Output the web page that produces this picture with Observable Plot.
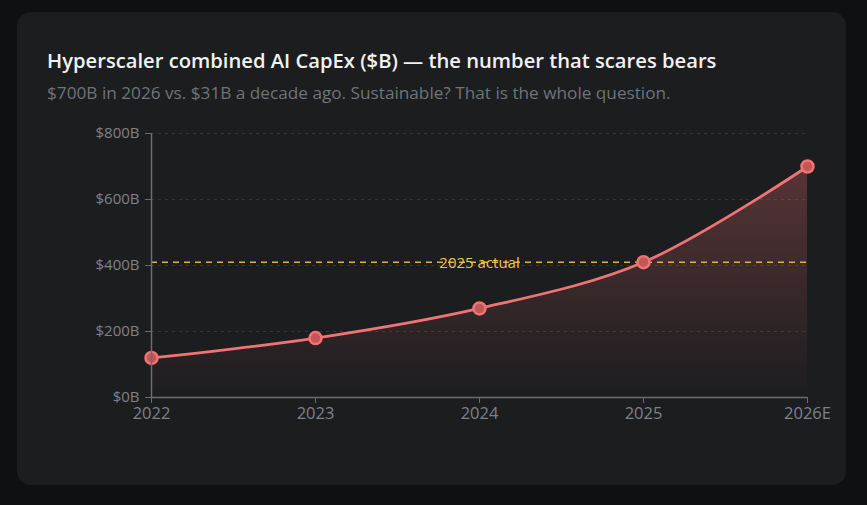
<!DOCTYPE html>
<html><head><meta charset="utf-8">
<script src="https://cdn.jsdelivr.net/npm/d3@7"></script>
<script src="https://cdn.jsdelivr.net/npm/@observablehq/plot@0.6"></script>
<style>
html,body{margin:0;padding:0;background:#0f1012;width:867px;height:505px;overflow:hidden;font-family:"Open Sans","Noto Sans",sans-serif;}
#card{position:absolute;left:17px;top:12px;width:829px;height:473px;background:#1c1d1f;border-radius:14px;}
#title{position:absolute;left:30px;top:34px;font-size:20.2px;font-weight:600;color:#f0f1f3;white-space:nowrap;}
#sub{position:absolute;left:30px;top:69px;font-size:17.2px;color:#6f737a;white-space:nowrap;}
#chart{position:absolute;left:0;top:108px;}
</style></head>
<body>
<div id="card">
<div id="title">Hyperscaler combined AI CapEx ($B) — the number that scares bears</div>
<div id="sub">$700B in 2026 vs. $31B a decade ago. Sustainable? That is the whole question.</div>
<div id="chart"></div>
</div>
<script>
const years = ["2022","2023","2024","2025","2026E"];
const capex = [120, 180, 270, 410, 700];
const yTicks = [0, 200, 400, 600, 800];
const ruleValue = 410;
const ruleLabel = "2025 actual";
const ruleLabelAt = "2024";

const data = years.map((y, i) => ({year: y, value: capex[i]}));

const defs = () => {
  const g = d3.create("svg:defs");
  const lg = g.append("linearGradient").attr("id", "areaGrad").attr("x1", 0).attr("y1", 0).attr("x2", 0).attr("y2", 1);
  lg.append("stop").attr("offset", "0%").attr("stop-color", "#f07070").attr("stop-opacity", 0.28);
  lg.append("stop").attr("offset", "100%").attr("stop-color", "#f07070").attr("stop-opacity", 0.0);
  return g.node();
};

const chart = Plot.plot({
  width: 829,
  height: 307,
  marginLeft: 134,
  marginRight: 39,
  marginTop: 13,
  marginBottom: 30,
  style: {background: "transparent", color: "#7d828a", fontFamily: "'Open Sans','Noto Sans',sans-serif"},
  x: {type: "point", domain: years, padding: 0, label: null},
  y: {domain: [0, 800], ticks: yTicks, label: null, tickFormat: d => `$${d}B`},
  marks: [
    defs,
    Plot.gridY(yTicks, {stroke: "#34363a", strokeOpacity: 1, strokeDasharray: "3,4"}),
    Plot.areaY(data, {x: "year", y: "value", fill: "url(#areaGrad)", curve: "catmull-rom"}),
    Plot.ruleY([ruleValue], {stroke: "#e0b040", strokeWidth: 1.5, strokeDasharray: "6,5"}),
    Plot.text([ruleLabel], {x: [ruleLabelAt], y: [ruleValue], text: d => d, fill: "#f2c544", fontSize: 15, textAnchor: "middle", dy: 1}),
    Plot.lineY(data, {x: "year", y: "value", stroke: "#f07474", strokeWidth: 2.8, curve: "catmull-rom"}),
    Plot.dot(data, {x: "year", y: "value", r: 6, fill: "#c25658", stroke: "#f07474", strokeWidth: 2.5}),
    Plot.axisY({ticks: yTicks, tickFormat: d => `$${d}B`, fontSize: 15, tickSize: 6, tickPadding: 6, stroke: "#6a6d72", fill: "#7d828a"}),
    Plot.axisX({fontSize: 16.5, tickSize: 6, tickPadding: 4, stroke: "#6a6d72", fill: "#7d828a"}),
    Plot.ruleX([years[0]], {stroke: "#6a6d72", strokeWidth: 1.5}),
    Plot.ruleY([0], {stroke: "#6a6d72", strokeWidth: 1.5})
  ]
});
document.getElementById("chart").appendChild(chart);
</script>
</body></html>
